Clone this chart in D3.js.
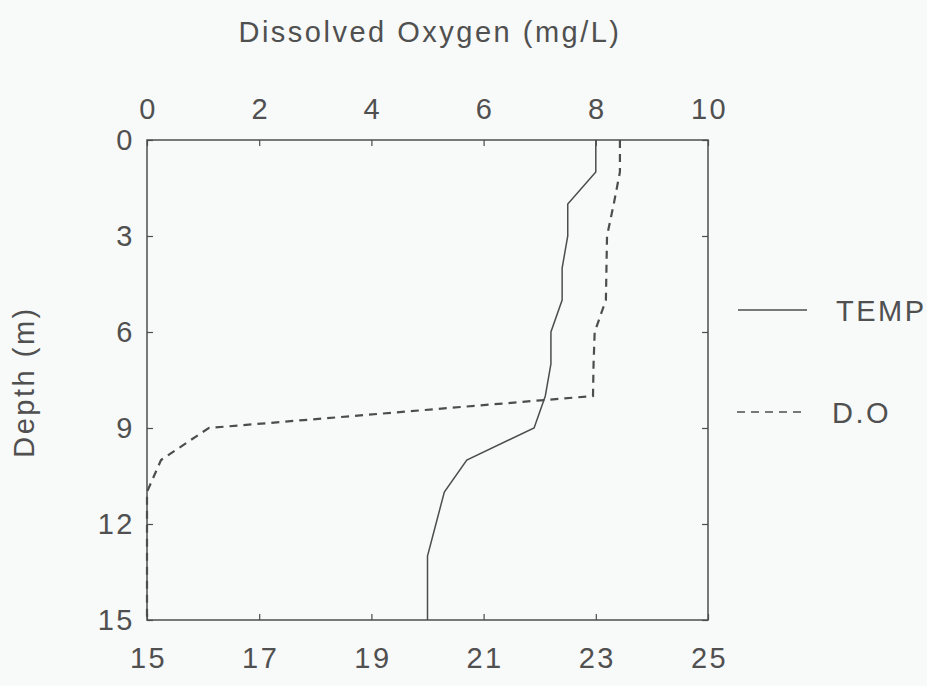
<!DOCTYPE html>
<html>
<head>
<meta charset="utf-8">
<script src="https://cdn.jsdelivr.net/npm/d3@7"></script>
<style>
  body { margin: 0; background: #f8f9f9; }
  text { font-family: "Liberation Sans", Arial, sans-serif; fill: #505050; letter-spacing: 2.5px; }
</style>
</head>
<body>
<svg id="chart" width="927" height="686"></svg>
<script>
// data
var depths = [0, 1, 2, 3, 4, 5, 6, 7, 8, 9, 10, 11, 12, 13, 14, 15];
var temp = [23.0, 23.0, 22.5, 22.5, 22.4, 22.4, 22.2, 22.2, 22.1, 21.9, 20.7, 20.3, 20.15, 20.0, 20.0, 20.0];
var dissolvedO2 = [8.43, 8.43, 8.32, 8.2, 8.19, 8.18, 7.98, 7.96, 7.95, 1.1, 0.25, 0, 0, 0, 0, 0];
var doTicks = [0, 2, 4, 6, 8, 10];
var tempTicks = [15, 17, 19, 21, 23, 25];
var depthTicks = [0, 3, 6, 9, 12, 15];

var margin = { top: 140, left: 147, right: 219, bottom: 66 },
    width = 927 - margin.left - margin.right,
    height = 686 - margin.top - margin.bottom;

var svg = d3.select('#chart')
var g = svg.append("g").attr("transform", "translate(" + margin.left + "," + margin.top + ")")

var x_do = d3.scaleLinear().domain([0, 10]).range([0, width])
var x_temp = d3.scaleLinear().domain([15, 25]).range([0, width])
var y = d3.scaleLinear().domain([0, 15]).range([0, height])

var lineColor = "#4d4d4d"
var fontSize = "29px"

// axes - ticks point inward
function styleAxis(sel) {
    sel.select(".domain").remove()
    sel.selectAll("line").attr("stroke", lineColor).attr("stroke-width", 1.2)
    sel.selectAll("text").style("font-size", fontSize).style("fill", "#505050")
        .style("font-family", "Liberation Sans, Arial, sans-serif")
}

g.append("g")
    .call(d3.axisTop(x_do).tickValues(doTicks).tickSize(-6).tickPadding(21))
    .call(styleAxis)
    .selectAll("text").attr("dx", "1px")

g.append("g")
    .attr("transform", "translate(0," + height + ")")
    .call(d3.axisBottom(x_temp).tickValues(tempTicks).tickSize(-6).tickPadding(27))
    .call(styleAxis)
    .selectAll("text").attr("dx", "1px")

g.append("g")
    .call(d3.axisLeft(y).tickValues(depthTicks).tickSize(-6).tickPadding(12))
    .call(styleAxis)

g.append("g")
    .attr("transform", "translate(" + width + ",0)")
    .call(d3.axisRight(y).tickValues(depthTicks).tickSize(-6).tickFormat(""))
    .call(styleAxis)

// frame
g.append("rect")
    .attr("width", width).attr("height", height)
    .attr("fill", "none").attr("stroke", lineColor).attr("stroke-width", 1.5)

// lines
var tempLine = d3.line()
    .x(function(d, i) { return x_temp(d); })
    .y(function(d, i) { return y(depths[i]); })

var doLine = d3.line()
    .x(function(d, i) { return x_do(d); })
    .y(function(d, i) { return y(depths[i]); })

g.append("path").datum(temp)
    .attr("d", tempLine)
    .attr("fill", "none").attr("stroke", lineColor).attr("stroke-width", 1.5)

g.append("path").datum(dissolvedO2)
    .attr("d", doLine)
    .attr("fill", "none").attr("stroke", lineColor).attr("stroke-width", 2.2)
    .attr("stroke-dasharray", "8,6")

// titles
svg.append("text")
    .attr("x", 430).attr("y", 42)
    .attr("text-anchor", "middle")
    .style("font-size", fontSize)
    .text("Dissolved Oxygen (mg/L)")

svg.append("text")
    .attr("transform", "translate(34,382) rotate(-90)")
    .attr("text-anchor", "middle")
    .style("font-size", fontSize)
    .text("Depth (m)")

// legend
svg.append("line").attr("x1", 738).attr("x2", 807).attr("y1", 310).attr("y2", 310)
    .attr("stroke", lineColor).attr("stroke-width", 1.6)
svg.append("text").attr("x", 836).attr("y", 321).style("font-size", fontSize).text("TEMP")

svg.append("line").attr("x1", 737).attr("x2", 802).attr("y1", 412).attr("y2", 412)
    .attr("stroke", lineColor).attr("stroke-width", 1.6).attr("stroke-dasharray", "8,6")
svg.append("text").attr("x", 832).attr("y", 423).style("font-size", fontSize).text("D.O")
</script>
</body>
</html>
